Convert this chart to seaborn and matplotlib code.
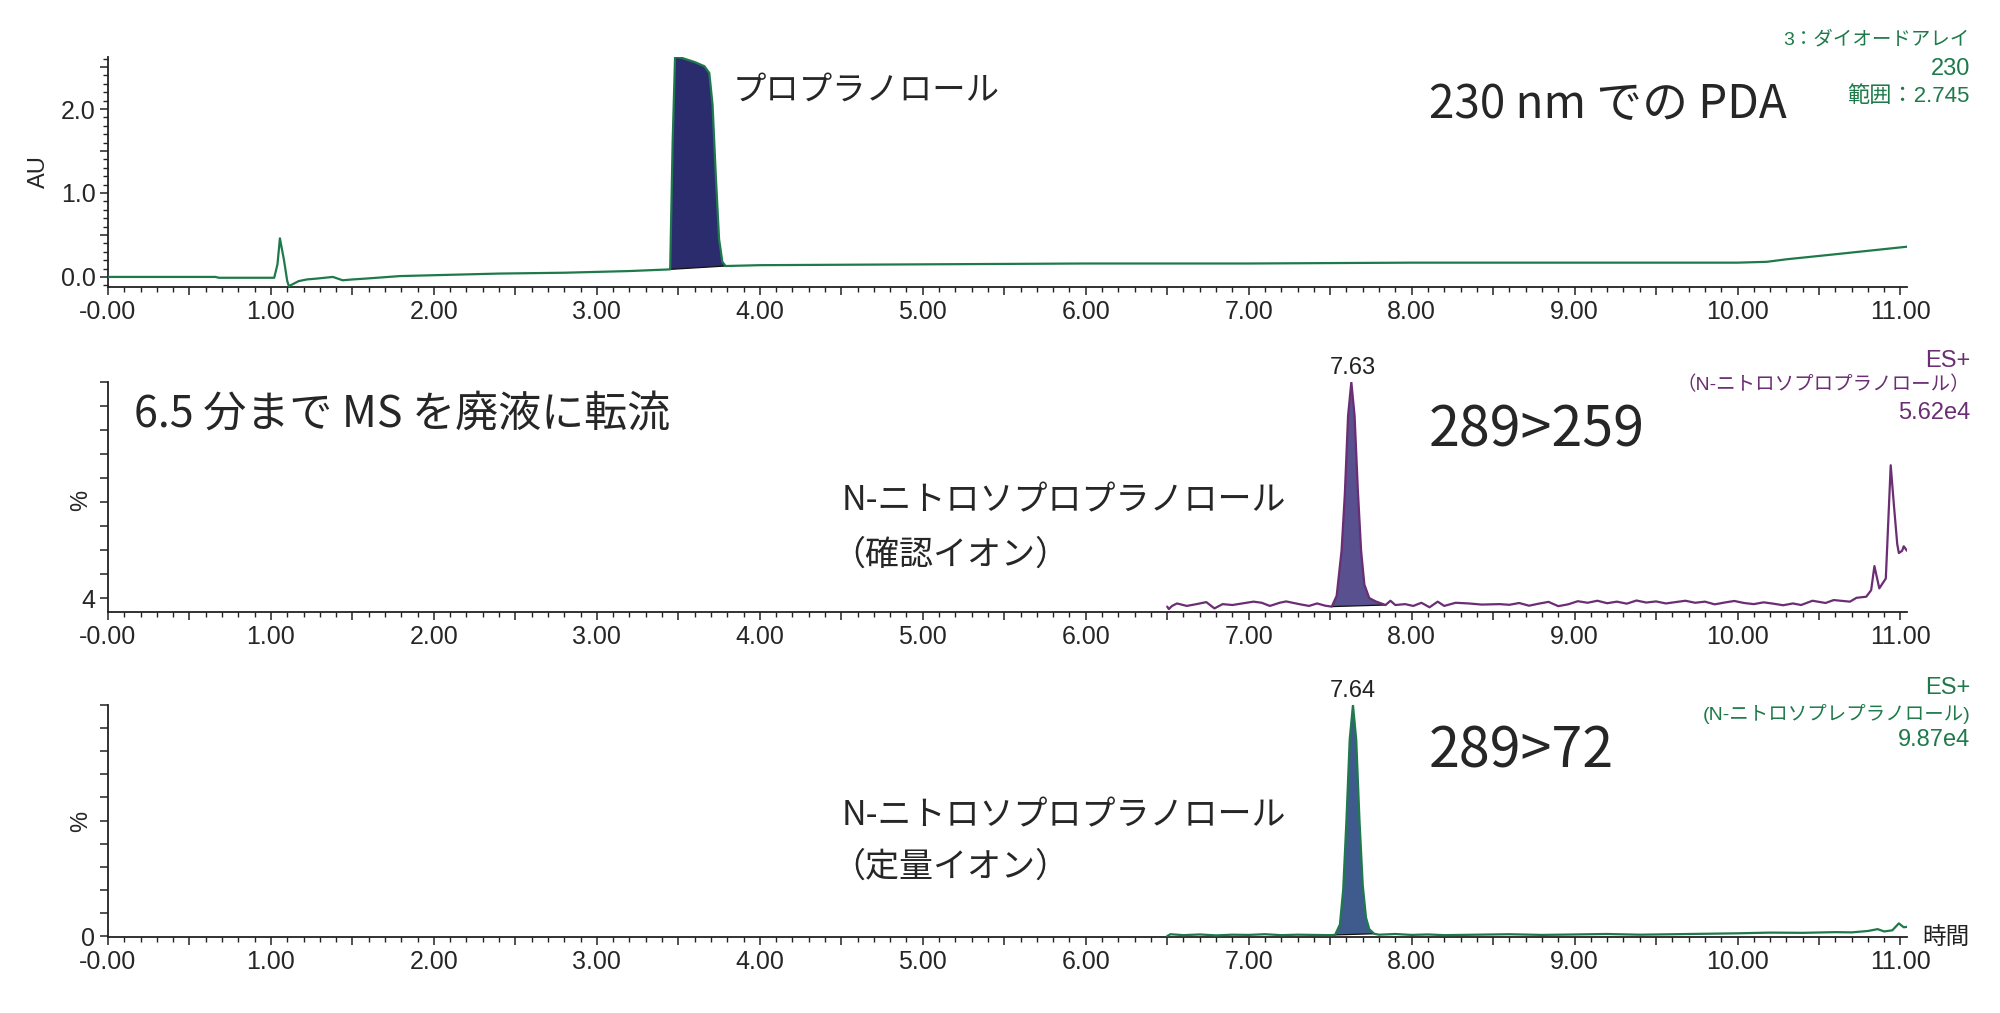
import numpy as np
import matplotlib
matplotlib.use("Agg")
import matplotlib.pyplot as plt
from matplotlib.ticker import MultipleLocator, FixedLocator, FuncFormatter
import seaborn as sns

# ── data ────────────────────────────────────────────────────────────────────
# PDA 230 nm (AU)
pda_time = [0.00, 0.30, 0.66, 0.68, 1.02, 1.04, 1.055, 1.08, 1.10, 1.11, 1.14,
            1.17, 1.22, 1.28, 1.38, 1.44, 1.50, 1.58, 1.79, 1.99, 2.40, 2.80,
            3.20, 3.45, 3.465, 3.48, 3.52, 3.60, 3.66, 3.69, 3.71, 3.73, 3.75,
            3.77, 3.79, 4.00, 5.00, 6.00, 7.00, 8.00, 9.00, 10.00, 10.18,
            10.30, 10.60, 11.04]
pda_au = [0.00, 0.00, 0.00, -0.01, -0.01, 0.15, 0.46, 0.20, -0.05, -0.11, -0.08,
          -0.05, -0.03, -0.02, 0.00, -0.04, -0.03, -0.02, 0.01, 0.02, 0.04, 0.05,
          0.07, 0.09, 1.60, 2.62, 2.61, 2.56, 2.51, 2.43, 2.05, 1.20, 0.45,
          0.18, 0.13, 0.14, 0.15, 0.16, 0.16, 0.17, 0.17, 0.17, 0.18,
          0.21, 0.27, 0.36]
pda_peak = (3.45, 3.79)

# MRM 289>259 (%)
q259_time = [6.50, 6.51, 6.53, 6.56, 6.62, 6.68, 6.74, 6.79, 6.84, 6.90, 6.96,
             7.03, 7.08, 7.13, 7.19, 7.23, 7.31, 7.37, 7.42, 7.47, 7.51, 7.54,
             7.57, 7.59, 7.61, 7.63, 7.65, 7.67, 7.69, 7.71, 7.74, 7.78, 7.84,
             7.87, 7.90, 7.96, 8.01, 8.06, 8.11, 8.16, 8.20, 8.27, 8.35, 8.43,
             8.54, 8.60, 8.66, 8.72, 8.78, 8.84, 8.90, 8.96, 9.02, 9.08, 9.14,
             9.20, 9.26, 9.32, 9.38, 9.44, 9.50, 9.56, 9.62, 9.68, 9.74, 9.80,
             9.86, 9.92, 9.98, 10.04, 10.10, 10.16, 10.22, 10.28, 10.34, 10.39,
             10.46, 10.54, 10.59, 10.69, 10.73, 10.79, 10.82, 10.84, 10.87,
             10.91, 10.94, 10.96, 10.98, 10.99, 11.01, 11.02, 11.04]
q259_pct = [0.2, -0.9, 0.5, 1.6, 0.5, 1.3, 2.2, -0.6, 1.3, 0.9, 1.6,
            2.4, 1.9, 0.5, 1.9, 2.5, 1.3, 0.5, 1.6, 0.6, 0.2, 5.0,
            25.0, 50.0, 85.0, 100.0, 85.0, 52.0, 25.0, 10.0, 4.0, 2.5, 0.9,
            2.8, 0.9, 1.3, 0.5, 1.9, -0.1, 2.4, 0.5, 1.9, 1.6, 1.1,
            1.3, 1.0, 1.8, 0.6, 1.5, 2.3, 0.4, 1.2, 2.6, 1.9, 2.8,
            1.7, 2.4, 1.5, 2.9, 2.0, 2.5, 1.6, 2.2, 2.8, 1.9, 2.4,
            1.2, 2.0, 2.7, 1.8, 1.3, 2.1, 1.5, 0.8, 1.6, 0.9,
            2.8, 1.8, 3.1, 2.4, 4.1, 4.6, 7.5, 18.2, 8.3,
            12.7, 63.0, 45.0, 28.0, 24.0, 25.0, 27.0, 25.0]
q259_peak = (7.51, 7.84)

# MRM 289>72 (%)
q72_time = [6.50, 6.52, 6.60, 6.70, 6.80, 6.90, 7.00, 7.10, 7.20, 7.30, 7.40,
            7.50, 7.53, 7.56, 7.58, 7.60, 7.62, 7.64, 7.66, 7.68, 7.70, 7.72,
            7.74, 7.77, 7.80, 7.90, 8.00, 8.10, 8.20, 8.40, 8.60, 8.80, 9.00,
            9.20, 9.40, 9.60, 9.80, 10.00, 10.20, 10.40, 10.60, 10.70, 10.80,
            10.86, 10.90, 10.95, 10.99, 11.02, 11.04]
q72_pct = [0.0, 0.8, 0.4, 0.7, 0.3, 0.6, 0.5, 0.8, 0.4, 0.6, 0.5,
           0.4, 0.5, 5.0, 20.0, 50.0, 85.0, 100.0, 85.0, 50.0, 22.0, 8.0,
           3.0, 1.0, 0.6, 0.9, 0.5, 0.7, 0.4, 0.6, 0.8, 0.5, 0.7,
           0.9, 0.6, 0.8, 1.0, 1.2, 1.5, 1.4, 1.7, 1.6, 2.2,
           3.0, 2.0, 2.5, 5.5, 3.8, 4.0]
q72_peak = (7.53, 7.77)

GREEN = "#1f7a4b"
PURPLE = "#6b2d73"
W, H = 2000, 1013


def fx(px):
    return px / W


def fy(py):
    return 1 - py / H


def draw_trace(ax, t, y, peak, line_color, fill_color):
    t = np.asarray(t)
    y = np.asarray(y)
    m = (t >= peak[0]) & (t <= peak[1])
    ax.fill(t[m], y[m], color=fill_color, lw=0, zorder=1)
    ax.plot(t[m][[0, -1]], y[m][[0, -1]], color="#111111", lw=0.9, zorder=2)
    sns.lineplot(x=t, y=y, ax=ax, color=line_color, lw=1.6,
                 estimator=None, sort=False, zorder=3)


def style_axis(ax):
    sns.despine(ax=ax)
    ax.set_xlim(0, 11.04)
    ax.xaxis.set_major_locator(MultipleLocator(0.5))
    ax.xaxis.set_minor_locator(MultipleLocator(0.1))
    ax.xaxis.set_major_formatter(FuncFormatter(
        lambda v, p: ("-0.00" if abs(v) < 1e-9 else f"{v:.2f}") if abs(v - round(v)) < 1e-6 else ""))
    ax.tick_params(axis="both", which="major", length=6, width=1.1,
                   labelsize=18, pad=3, direction="out", color="#222222")
    ax.tick_params(axis="both", which="minor", length=3.5, width=1.0,
                   direction="out", color="#222222")
    ax.set_xlabel("")
    ax.set_ylabel("")
    for s in ax.spines.values():
        s.set_linewidth(1.3)
        s.set_color("#222222")


sns.set_theme(style="ticks")
plt.rcParams["font.family"] = ["Liberation Sans", "Noto Sans CJK JP"]

fig = plt.figure(figsize=(20, 10.13), dpi=100)
ax_top = fig.add_axes([fx(108), fy(287), fx(1799), 230 / H])
ax_mid = fig.add_axes([fx(108), fy(612), fx(1799), 230 / H])
ax_bot = fig.add_axes([fx(108), fy(937), fx(1799), 232 / H])

# ── PDA panel ───────────────────────────────────────────────────────────────
draw_trace(ax_top, pda_time, pda_au, pda_peak, GREEN, "#2a2c6e")
style_axis(ax_top)
ax_top.set_ylim(-0.12, 2.62)
ax_top.yaxis.set_major_locator(MultipleLocator(0.5))
ax_top.yaxis.set_minor_locator(MultipleLocator(0.1))
ax_top.yaxis.set_major_formatter(FuncFormatter(
    lambda v, p: f"{v:.1f}" if abs(v - round(v)) < 1e-6 else ""))
ax_top.set_ylabel("AU", fontsize=17)
ax_top.yaxis.set_label_coords(-0.032, 0.5)

# ── 289>259 panel ───────────────────────────────────────────────────────────
draw_trace(ax_mid, q259_time, q259_pct, q259_peak, PURPLE, "#58508f")
style_axis(ax_mid)
ax_mid.set_ylim(-2.2, 100)
ax_mid.yaxis.set_major_locator(FixedLocator(np.linspace(4, 100, 10)))
ax_mid.yaxis.set_major_formatter(FuncFormatter(lambda v, p: "4" if p == 0 else ""))
ax_mid.set_ylabel("%", fontsize=17)
ax_mid.yaxis.set_label_coords(-0.009, 0.483)
ax_mid.text(7.64, 101.5, "7.63", ha="center", va="bottom", fontsize=17, color="#222222")

# ── 289>72 panel ────────────────────────────────────────────────────────────
draw_trace(ax_bot, q72_time, q72_pct, q72_peak, GREEN, "#3f5a8c")
style_axis(ax_bot)
ax_bot.set_ylim(-0.4, 100)
ax_bot.yaxis.set_major_locator(MultipleLocator(10))
ax_bot.yaxis.set_major_formatter(FuncFormatter(lambda v, p: "0" if abs(v) < 1e-9 else ""))
ax_bot.set_ylabel("%", fontsize=17)
ax_bot.yaxis.set_label_coords(-0.009, 0.5)
ax_bot.text(7.64, 101.5, "7.64", ha="center", va="bottom", fontsize=17, color="#222222")

# ── annotations ─────────────────────────────────────────────────────────────
JP = ["Noto Sans CJK JP", "DejaVu Sans"]
MIX = ["Liberation Sans", "Noto Sans CJK JP"]

fig.text(fx(733), fy(90), "プロプラノロール", fontsize=24, family=JP, va="center")
fig.text(fx(1429), fy(105), "230 nm での PDA", fontsize=33, family=JP, va="center")
fig.text(fx(134), fy(415), "6.5 分まで MS を廃液に転流", fontsize=31, family=JP, va="center")
fig.text(fx(1429), fy(431), "289>259", fontsize=40, family=JP, va="center")
fig.text(fx(842), fy(501), "N-ニトロソプロプラノロール", fontsize=24.5, family=JP, va="center")
fig.text(fx(831), fy(555), "（確認イオン）", fontsize=24.5, family=JP, va="center")
fig.text(fx(1429), fy(752), "289>72", fontsize=40, family=JP, va="center")
fig.text(fx(842), fy(816), "N-ニトロソプロプラノロール", fontsize=24.5, family=JP, va="center")
fig.text(fx(831), fy(867), "（定量イオン）", fontsize=24.5, family=JP, va="center")

right_labels = [
    ("3：ダイオードアレイ", 40, GREEN, 14), ("230", 69, GREEN, 17), ("範囲：2.745", 96, GREEN, 16),
    ("ES+", 361, PURPLE, 17), ("（N-ニトロソプロプラノロール）", 385, PURPLE, 14),
    ("5.62e4", 413, PURPLE, 17),
    ("ES+", 688, GREEN, 17), ("(N-ニトロソプレプラノロール)", 714, GREEN, 14),
    ("9.87e4", 740, GREEN, 17),
]
for txt, ypx, col, size in right_labels:
    fig.text(fx(1970), fy(ypx), txt, fontsize=size, family=MIX, color=col,
             ha="right", va="center")

fig.text(fx(1922), fy(937), "時間", fontsize=17, family=JP, va="center", color="#222222")

fig.savefig("out.png", dpi=100, facecolor="white")
